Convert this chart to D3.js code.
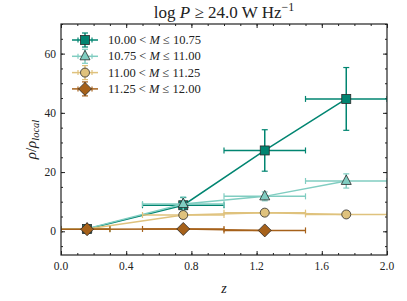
<!DOCTYPE html>
<html>
<head>
<meta charset="utf-8">
<script src="https://cdn.jsdelivr.net/npm/d3@7"></script>
<style>
  body { margin: 0; background: #fff; }
</style>
</head>
<body>
<div id="chart"></div>
<script>
// redshift bins (same for every mass bin)
var zMid = [0.16, 0.75, 1.25, 1.75];
var zLo = [0.0, 0.5, 1.0, 1.5];
var zHi = [0.3, 1.0, 1.5, 2.0];

var labels = ["10.00", "10.75", "11.00", "11.25", "12.00"];
var colors = ["#018571", "#80cdc1", "#dfc27d", "#a6611a"];
var markers = ["square", "triangle", "circle", "diamond"];

// rho / rho_local per mass bin, with symmetric errors
var rho1 = [0.8, 8.8, 27.3, 44.7];
var err1 = [0.3, 2.6, 7.0, 10.6];
var rho2 = [0.9, 9.2, 11.8, 17.0];
var err2 = [0.3, 2.4, 1.5, 2.4];
var rho3 = [0.8, 5.5, 6.3, 5.7];
var err3 = [0.2, 0.6, 0.5, 0.4];
var rho4 = [0.7, 0.8, 0.3];
var err4 = [0.2, 0.2, 0.2];

var xTicks = [0.0, 0.4, 0.8, 1.2, 1.6, 2.0];
var yTicks = [0, 20, 40, 60];

var W = 407, H = 301;
var margin = { top: 24, right: 20, bottom: 46, left: 61 },
    width = 387 - margin.left,
    height = 255 - margin.top;

var svg = d3.select("#chart").append("svg")
    .attr("width", W).attr("height", H)
    .style("font-family", "'Liberation Serif', serif");

var g = svg.append("g")
    .attr("transform", "translate(" + margin.left + "," + margin.top + ")");

var x = d3.scaleLinear().domain([0, 2]).range([0, width]);
var y = d3.scaleLinear().domain([-8, 70]).range([height, 0]);

svg.append("defs").append("clipPath").attr("id", "clip")
    .append("rect").attr("width", width).attr("height", height);

// ticks (pointing in, on all four sides)
function ticks(axisFn, scale, major, minor, transform) {
    var a = g.append("g").attr("transform", transform);
    a.call(axisFn(scale).tickValues(minor).tickSize(-2).tickFormat(""));
    a.call(function (s) { s.select(".domain").remove(); });
    var b = g.append("g").attr("transform", transform);
    b.call(axisFn(scale).tickValues(major).tickSize(-4).tickFormat(""));
    b.call(function (s) { s.select(".domain").remove(); });
    g.selectAll(".tick line").attr("stroke", "#222").attr("stroke-width", 1);
}
var xMinor = d3.range(0, 21).map(function (i) { return i / 10; });
var yMinor = d3.range(-5, 71, 5);
ticks(d3.axisBottom, x, xTicks, xMinor, "translate(0," + height + ")");
ticks(d3.axisTop, x, xTicks, xMinor, "translate(0,0)");
ticks(d3.axisLeft, y, yTicks, yMinor, "translate(0,0)");
ticks(d3.axisRight, y, yTicks, yMinor, "translate(" + width + ",0)");

// tick labels
g.append("g").selectAll("text").data(xTicks).enter().append("text")
    .attr("x", function (d) { return x(d); })
    .attr("y", height + 15)
    .attr("text-anchor", "middle")
    .attr("fill", "#222")
    .style("font-size", "11.5px")
    .text(function (d) { return d.toFixed(1); });
g.append("g").selectAll("text").data(yTicks).enter().append("text")
    .attr("x", -5)
    .attr("y", function (d) { return y(d) + 4; })
    .attr("text-anchor", "end")
    .attr("fill", "#222")
    .style("font-size", "11.5px")
    .text(function (d) { return d; });

var series = [
    { rho: rho1, err: err1 },
    { rho: rho2, err: err2 },
    { rho: rho3, err: err3 },
    { rho: rho4, err: err4 }
];

function drawMarker(sel, type, color, cx, cy) {
    var m;
    if (type == "square") {
        m = sel.append("rect").attr("x", cx - 4.5).attr("y", cy - 4.5).attr("width", 9).attr("height", 9);
    } else if (type == "circle") {
        m = sel.append("circle").attr("cx", cx).attr("cy", cy).attr("r", 4.5);
    } else if (type == "triangle") {
        m = sel.append("path").attr("d", "M" + cx + "," + (cy - 6) + "L" + (cx + 5) + "," + (cy + 3.5) + "L" + (cx - 5) + "," + (cy + 3.5) + "Z");
    } else {
        m = sel.append("path").attr("d", "M" + cx + "," + (cy - 6.5) + "L" + (cx + 6.5) + "," + cy + "L" + cx + "," + (cy + 6.5) + "L" + (cx - 6.5) + "," + cy + "Z");
    }
    m.attr("fill", color).attr("stroke", "#2a2a2a").attr("stroke-width", 0.8);
}

var plot = g.append("g").attr("clip-path", "url(#clip)");

series.forEach(function (s, k) {
    var c = colors[k];
    var pts = s.rho.map(function (r, i) {
        return { z: zMid[i], lo: zLo[i], hi: zHi[i], r: r, e: s.err[i] };
    });
    var sg = plot.append("g");
    // error bars
    pts.forEach(function (p) {
        var cx = x(p.z), cy = y(p.r);
        sg.append("line").attr("x1", x(p.lo)).attr("x2", x(p.hi)).attr("y1", cy).attr("y2", cy)
            .attr("stroke", c).attr("stroke-width", 1.5);
        sg.append("line").attr("x1", x(p.lo)).attr("x2", x(p.lo)).attr("y1", cy - 3).attr("y2", cy + 3)
            .attr("stroke", c).attr("stroke-width", 1.2);
        sg.append("line").attr("x1", x(p.hi)).attr("x2", x(p.hi)).attr("y1", cy - 3).attr("y2", cy + 3)
            .attr("stroke", c).attr("stroke-width", 1.2);
        sg.append("line").attr("x1", cx).attr("x2", cx).attr("y1", y(p.r - p.e)).attr("y2", y(p.r + p.e))
            .attr("stroke", c).attr("stroke-width", 1.5);
        [p.r - p.e, p.r + p.e].forEach(function (v) {
            sg.append("line").attr("x1", cx - 3).attr("x2", cx + 3).attr("y1", y(v)).attr("y2", y(v))
                .attr("stroke", c).attr("stroke-width", 1.2);
        });
    });
    // connecting line
    sg.append("path").datum(pts)
        .attr("fill", "none").attr("stroke", c).attr("stroke-width", 1.5)
        .attr("d", d3.line().x(function (d) { return x(d.z); }).y(function (d) { return y(d.r); }));
    // markers
    pts.forEach(function (p) { drawMarker(sg, markers[k], c, x(p.z), y(p.r)); });
});

// frame
g.append("rect").attr("width", width).attr("height", height)
    .attr("fill", "none").attr("stroke", "#222").attr("stroke-width", 1.2);

// legend
var leg = g.append("g").attr("transform", "translate(0,16)");
colors.forEach(function (c, k) {
    var ly = k * 16.3, lx = 24;
    var lg = leg.append("g");
    lg.append("line").attr("x1", lx - 13).attr("x2", lx + 13).attr("y1", ly).attr("y2", ly)
        .attr("stroke", c).attr("stroke-width", 1.5);
    [lx - 7, lx + 7].forEach(function (v) {
        lg.append("line").attr("x1", v).attr("x2", v).attr("y1", ly - 2.5).attr("y2", ly + 2.5)
            .attr("stroke", c).attr("stroke-width", 1.2);
    });
    lg.append("line").attr("x1", lx).attr("x2", lx).attr("y1", ly - 7).attr("y2", ly + 7)
        .attr("stroke", c).attr("stroke-width", 1.5);
    [ly - 7, ly + 7].forEach(function (v) {
        lg.append("line").attr("x1", lx - 3).attr("x2", lx + 3).attr("y1", v).attr("y2", v)
            .attr("stroke", c).attr("stroke-width", 1.2);
    });
    drawMarker(lg, markers[k], c, lx, ly);
    var t = lg.append("text").attr("x", lx + 23).attr("y", ly + 4).attr("fill", "#222").style("font-size", "12.5px");
    t.append("tspan").text(labels[k] + " < ");
    t.append("tspan").style("font-style", "italic").text("M");
    t.append("tspan").text(" \u2264 " + labels[k + 1]);
});

// title
var title = svg.append("text").attr("x", margin.left + width / 2).attr("y", 18)
    .attr("text-anchor", "middle").attr("fill", "#222").style("font-size", "17px");
title.append("tspan").text("log ");
title.append("tspan").style("font-style", "italic").text("P");
title.append("tspan").text(" \u2265 24.0 W Hz");
title.append("tspan").attr("dy", -7).style("font-size", "12px").text("\u22121");

// axis labels
svg.append("text").attr("x", margin.left + width / 2).attr("y", 293)
    .attr("text-anchor", "middle").attr("fill", "#222").style("font-size", "14px").style("font-style", "italic").text("z");
var yl = svg.append("text").attr("transform", "translate(36," + (margin.top + height / 2) + ") rotate(-90)")
    .attr("text-anchor", "middle").attr("fill", "#222").style("font-size", "15px");
yl.append("tspan").style("font-style", "italic").text("\u03c1");
yl.append("tspan").text("/");
yl.append("tspan").style("font-style", "italic").text("\u03c1");
yl.append("tspan").attr("dy", 3).style("font-size", "10.5px").style("font-style", "italic").text("local");
</script>
</body>
</html>
